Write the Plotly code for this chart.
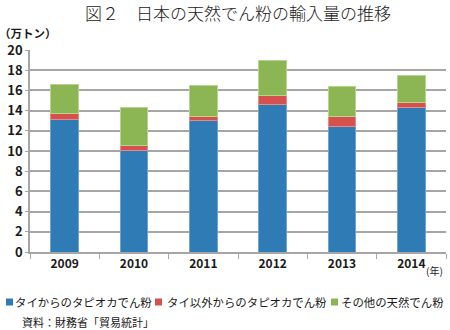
import plotly.graph_objects as go

# Japan's natural starch imports (10,000 t)
years = ["2009", "2010", "2011", "2012", "2013", "2014"]
thai_tapioca = [13.07, 10.07, 12.98, 14.65, 12.42, 14.29]
other_tapioca = [0.60, 0.44, 0.39, 0.89, 0.95, 0.53]
other_natural = [2.95, 3.82, 3.09, 3.38, 3.06, 2.66]

series_names = ["タイからのタピオカでん粉", "タイ以外からのタピオカでん粉", "その他の天然でん粉"]
colors = ["#2E7BB6", "#D6514E", "#8CB554"]
edge_colors = ["#6FA3D3", "#E58C89", "#B5D68C"]
y_ticks = [0, 2, 4, 6, 8, 10, 12, 14, 16, 18, 20]

FONT = "Noto Sans CJK JP"
W, H = 450, 330
L, R, T, B = 30, 4, 50, 78

fig = go.Figure()
for name, vals, c, ec in zip(series_names, [thai_tapioca, other_tapioca, other_natural], colors, edge_colors):
    fig.add_trace(go.Bar(
        x=years, y=vals, name=name,
        marker=dict(color=c, line=dict(color=ec, width=1)),
        showlegend=False,
    ))

fig.update_layout(
    width=W, height=H,
    margin=dict(l=L, r=R, t=T, b=B),
    barmode="stack", bargap=0.6,
    plot_bgcolor="white", paper_bgcolor="white",
    font=dict(family=FONT, color="#1a1a1a"),
    xaxis=dict(
        type="category", showgrid=False,
        showline=True, linecolor="#A6A6A6", linewidth=1.5,
        ticks="outside", tickson="boundaries", ticklen=5, tickcolor="#A6A6A6",
        tickfont=dict(size=12, family=FONT, weight="bold", color="#1a1a1a"),
    ),
    yaxis=dict(
        range=[0, 20], tickvals=y_ticks,
        showgrid=True, gridcolor="#A6A6A6", gridwidth=1.5,
        showline=True, linecolor="#A6A6A6", linewidth=1.5,
        ticks="outside", ticklen=3, tickcolor="#A6A6A6",
        zeroline=False,
        tickfont=dict(size=13, family=FONT, weight="bold", color="#1a1a1a"),
    ),
)

def px_x(px):
    return (px - L) / (W - L - R)

def px_y(py):
    return (H - B - py) / (H - T - B)

annotations = [
    dict(text="図２　日本の天然でん粉の輸入量の推移", x=0.5, y=12, font=dict(size=17, weight=300)),
    dict(text="（万トン）", x=28, y=33, font=dict(size=11.5, weight="bold")),
    dict(text="(年)", x=434, y=270, font=dict(size=10)),
    dict(text="資料：財務省「貿易統計」", x=88, y=322, font=dict(size=11)),
]
for a in annotations:
    xref_val = a["x"] if a["x"] <= 1 else px_x(a["x"])
    fig.add_annotation(
        text=a["text"], xref="paper", yref="paper",
        x=xref_val, y=px_y(a["y"]), xanchor="center", yanchor="middle",
        showarrow=False, font=dict(family=FONT, color="#1a1a1a", **a["font"]),
    )

# legend row: colored squares with labels
legend_sq_x = [9.5, 158.5, 334.5]
legend_text_x = [13, 165, 339]
legend_y = 302
for name, c, sx, tx in zip(series_names, colors, legend_sq_x, legend_text_x):
    fig.add_shape(
        type="rect", xref="paper", yref="paper",
        x0=px_x(sx - 3.5), x1=px_x(sx + 3.5),
        y0=px_y(legend_y + 3.5), y1=px_y(legend_y - 3.5),
        fillcolor=c, line=dict(width=0),
    )
    fig.add_annotation(
        text=name, xref="paper", yref="paper",
        x=px_x(tx), y=px_y(legend_y), xanchor="left", yanchor="middle",
        showarrow=False, font=dict(family=FONT, size=11.4, color="#1a1a1a"),
    )

fig.write_html("out.html")
